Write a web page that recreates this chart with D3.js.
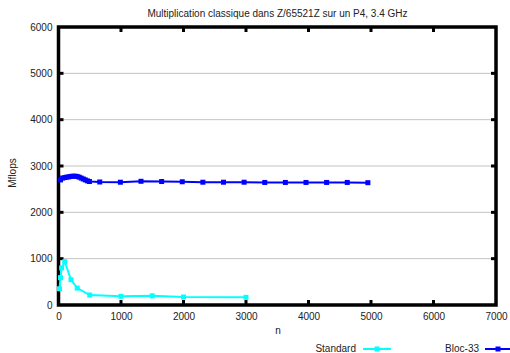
<!DOCTYPE html>
<html><head><meta charset="utf-8">
<script src="https://cdn.jsdelivr.net/npm/d3@7"></script>
<style>body{margin:0;background:#fff}svg text{font-family:"Liberation Sans",Arial,sans-serif;fill:#222}</style>
</head><body><svg id="c" width="510" height="353"></svg>
<script>
const title = "Multiplication classique dans Z/65521Z sur un P4, 3.4 GHz";
const xTicks = [0,1000,2000,3000,4000,5000,6000,7000];
const yTicks = [0,1000,2000,3000,4000,5000,6000];
const stdN = [16,32,50,100,200,300,500,1000,1500,2000,3000];
const stdV = [350,590,800,935,545,365,215,188,198,172,165];
const blocN = [33,66,99,132,165,198,231,264,297,330,363,396,429,462,495,660,990,1320,1650,1980,2310,2640,2970,3300,3630,3960,4290,4620,4950];
const blocV = [2700,2740,2750,2760,2765,2775,2780,2780,2775,2760,2740,2720,2700,2680,2665,2655,2650,2670,2665,2660,2650,2650,2650,2645,2645,2645,2645,2645,2640];
const legendNames = ["Standard","Bloc-33"];
const colors = ["#00ffff","#0000ff"];

const svg = d3.select("#c");
const L=58.5,R=496,T=27,B=305;
const x = d3.scaleLinear().domain([0,7000]).range([L,R]);
const y = d3.scaleLinear().domain([0,6000]).range([B,T]);

svg.append("text").attr("x",277.5).attr("y",17).attr("text-anchor","middle").attr("font-size",10).text(title);

// grid
svg.append("g").selectAll("line").data(yTicks.filter(d=>d>0&&d<6000)).join("line")
 .attr("x1",L).attr("x2",R).attr("y1",d=>y(d)).attr("y2",d=>y(d))
 .attr("stroke","#888").attr("stroke-width",1).attr("stroke-dasharray","1,1");

// axes
const ax = svg.append("g").attr("transform",`translate(0,${B})`).call(d3.axisBottom(x).tickValues(xTicks).tickSize(0).tickPadding(8).tickFormat(d3.format("d")));
ax.select(".domain").remove();
ax.selectAll("text").attr("font-size",10).attr("fill","#222");
const ay = svg.append("g").attr("transform",`translate(${L},0)`).call(d3.axisLeft(y).tickValues(yTicks).tickSize(0).tickPadding(6).tickFormat(d3.format("d")));
ay.select(".domain").remove();
ay.selectAll("text").attr("font-size",10).attr("fill","#222");

// tick marks inward
const tk = svg.append("g").attr("stroke","#000").attr("stroke-width",3);
xTicks.slice(1,-1).forEach(d=>{
  tk.append("line").attr("x1",x(d)).attr("x2",x(d)).attr("y1",B).attr("y2",B-5);
  tk.append("line").attr("x1",x(d)).attr("x2",x(d)).attr("y1",T).attr("y2",T+5);
});
yTicks.slice(1,-1).forEach(d=>{
  tk.append("line").attr("x1",L).attr("x2",L+5).attr("y1",y(d)).attr("y2",y(d));
  tk.append("line").attr("x1",R).attr("x2",R-5).attr("y1",y(d)).attr("y2",y(d));
});

// frame
svg.append("rect").attr("x",L).attr("y",T).attr("width",R-L).attr("height",B-T)
 .attr("fill","none").attr("stroke","#000").attr("stroke-width",3.5);

svg.append("text").attr("x",278).attr("y",334).attr("text-anchor","middle").attr("font-size",10).text("n");
svg.append("text").attr("transform","translate(16,173) rotate(-90)").attr("text-anchor","middle").attr("font-size",10).text("Mflops");

const series = [stdN.map((n,i)=>[n,stdV[i]]), blocN.map((n,i)=>[n,blocV[i]])];
const line = d3.line().x(d=>x(d[0])).y(d=>y(d[1]));
series.forEach((s,k)=>{
  const g = svg.append("g");
  g.append("path").attr("d",line(s)).attr("fill","none").attr("stroke",colors[k]).attr("stroke-width",2);
  g.selectAll("rect").data(s).join("rect").attr("x",d=>x(d[0])-2.5).attr("y",d=>y(d[1])-2.5)
   .attr("width",5).attr("height",5).attr("fill",colors[k]);
});

// legend
const lg = [{tx:356,x1:363,x2:391,m:377},{tx:479,x1:485,x2:512,m:498}];
lg.forEach((o,k)=>{
  svg.append("text").attr("x",o.tx).attr("y",352).attr("text-anchor","end").attr("font-size",10).text(legendNames[k]);
  svg.append("line").attr("x1",o.x1).attr("x2",o.x2).attr("y1",349).attr("y2",349).attr("stroke",colors[k]).attr("stroke-width",2);
  svg.append("rect").attr("x",o.m-2.5).attr("y",346.5).attr("width",5).attr("height",5).attr("fill",colors[k]);
});
</script></body></html>
